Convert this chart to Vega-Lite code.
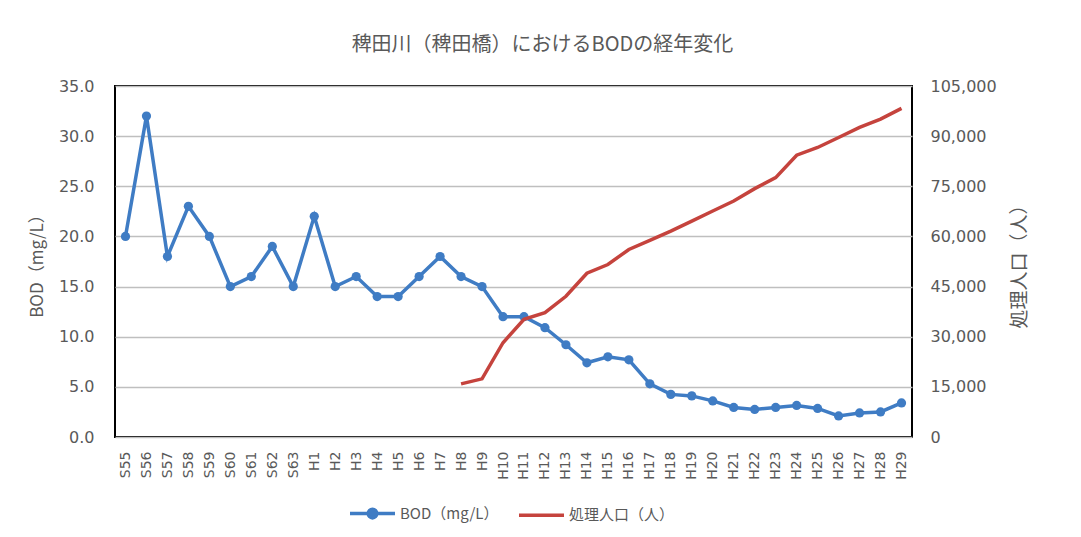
{
  "$schema": "https://vega.github.io/schema/vega-lite/v6.json",
  "width": 797,
  "height": 351,
  "autosize": {"type": "none"},
  "padding": {"left": 115, "top": 86, "right": 169, "bottom": 100},
  "background": "white",
  "title": {
    "text": "稗田川（稗田橋）におけるBODの経年変化",
    "font": "Noto Sans CJK JP",
    "fontSize": 20,
    "fontWeight": "normal",
    "color": "#595959",
    "anchor": "middle",
    "dx": 29,
    "offset": 23
  },
  "config": {
    "view": {"stroke": "black", "strokeWidth": 2},
    "axis": {
      "labelFont": "DejaVu Sans",
      "labelColor": "#595959",
      "titleFont": "Noto Sans CJK JP",
      "titleColor": "#595959",
      "titleFontWeight": "normal",
      "ticks": false,
      "domain": false
    }
  },
  "data": {
    "values": [
      {"year": "S55", "bod": 20, "pop": null},
      {"year": "S56", "bod": 32, "pop": null},
      {"year": "S57", "bod": 18, "pop": null},
      {"year": "S58", "bod": 23, "pop": null},
      {"year": "S59", "bod": 20, "pop": null},
      {"year": "S60", "bod": 15, "pop": null},
      {"year": "S61", "bod": 16, "pop": null},
      {"year": "S62", "bod": 19, "pop": null},
      {"year": "S63", "bod": 15, "pop": null},
      {"year": "H1", "bod": 22, "pop": null},
      {"year": "H2", "bod": 15, "pop": null},
      {"year": "H3", "bod": 16, "pop": null},
      {"year": "H4", "bod": 14, "pop": null},
      {"year": "H5", "bod": 14, "pop": null},
      {"year": "H6", "bod": 16, "pop": null},
      {"year": "H7", "bod": 18, "pop": null},
      {"year": "H8", "bod": 16, "pop": 15900},
      {"year": "H9", "bod": 15, "pop": 17400},
      {"year": "H10", "bod": 12, "pop": 28200},
      {"year": "H11", "bod": 12, "pop": 35200},
      {"year": "H12", "bod": 10.9, "pop": 37200},
      {"year": "H13", "bod": 9.2, "pop": 42100},
      {"year": "H14", "bod": 7.4, "pop": 49000},
      {"year": "H15", "bod": 8.0, "pop": 51600},
      {"year": "H16", "bod": 7.7, "pop": 56100},
      {"year": "H17", "bod": 5.3, "pop": 58800},
      {"year": "H18", "bod": 4.25, "pop": 61600},
      {"year": "H19", "bod": 4.1, "pop": 64600},
      {"year": "H20", "bod": 3.6, "pop": 67600},
      {"year": "H21", "bod": 2.95, "pop": 70600},
      {"year": "H22", "bod": 2.75, "pop": 74300},
      {"year": "H23", "bod": 2.95, "pop": 77600},
      {"year": "H24", "bod": 3.15, "pop": 84300},
      {"year": "H25", "bod": 2.85, "pop": 86600},
      {"year": "H26", "bod": 2.1, "pop": 89600},
      {"year": "H27", "bod": 2.4, "pop": 92600},
      {"year": "H28", "bod": 2.5, "pop": 95100},
      {"year": "H29", "bod": 3.4, "pop": 98300}
    ]
  },
  "encoding": {
    "x": {
      "field": "year",
      "type": "ordinal",
      "sort": null,
      "scale": {"type": "point", "padding": 0.5},
      "axis": {
        "title": null,
        "labelAngle": -90,
        "labelFontSize": 14,
        "labelPadding": 14,
        "grid": false
      }
    }
  },
  "layer": [
    {
      "layer": [
        {
          "mark": {"type": "line", "strokeWidth": 3.5},
          "encoding": {
            "y": {
              "field": "bod",
              "type": "quantitative",
              "scale": {"domain": [0, 35]},
              "axis": {
                "orient": "left",
                "title": "BOD（mg/L）",
                "titleFontSize": 17,
                "titlePadding": 12,
                "values": [0, 5, 10, 15, 20, 25, 30, 35],
                "labelExpr": "format(datum.value, '.1f')",
                "labelFontSize": 16,
                "labelPadding": 21,
                "grid": true,
                "gridColor": "#bfbfbf",
                "gridWidth": 1.5
              }
            },
            "color": {
              "datum": "BOD（mg/L）",
              "type": "nominal",
              "scale": {
                "domain": ["BOD（mg/L）", "処理人口（人）"],
                "range": ["#3f7cc4", "#c5433d"]
              },
              "legend": {
                "title": null,
                "orient": "none",
                "legendX": 233,
                "legendY": 403,
                "direction": "horizontal",
                "symbolSize": 2025,
                "columnPadding": 13,
                "labelFont": "Noto Sans CJK JP",
                "labelFontSize": 15,
                "labelColor": "#595959",
                "labelOffset": 3,
                "encode": {
                  "symbols": {
                    "update": {
                      "shape": {"signal": "datum.value === 'BOD（mg/L）' ? 'M-1,0H1M0.19,0A0.19,0.19 0 1,1 -0.19,0A0.19,0.19 0 1,1 0.19,0Z' : 'M-1,0H1'"},
                      "fill": {"scale": "color", "field": "value"},
                      "stroke": {"scale": "color", "field": "value"},
                      "strokeWidth": {"value": 3.5},
                      "fillOpacity": {"value": 1},
                      "opacity": {"value": 1}
                    }
                  }
                }
              }
            }
          }
        },
        {
          "mark": {"type": "circle", "size": 85, "opacity": 1},
          "encoding": {
            "y": {"field": "bod", "type": "quantitative"},
            "color": {"datum": "BOD（mg/L）", "type": "nominal"}
          }
        }
      ]
    },
    {
      "mark": {"type": "line", "strokeWidth": 3.5},
      "encoding": {
        "y": {
          "field": "pop",
          "type": "quantitative",
          "scale": {"domain": [0, 105000]},
          "axis": {
            "orient": "right",
            "title": "処理人口（人）",
            "titleAngle": -90,
            "titleFontSize": 19,
            "titlePadding": 33,
            "values": [0, 15000, 30000, 45000, 60000, 75000, 90000, 105000],
            "labelExpr": "format(datum.value, ',')",
            "labelFontSize": 16,
            "labelPadding": 18,
            "grid": false
          }
        },
        "color": {"datum": "処理人口（人）", "type": "nominal"}
      }
    }
  ],
  "resolve": {"scale": {"y": "independent"}}
}
